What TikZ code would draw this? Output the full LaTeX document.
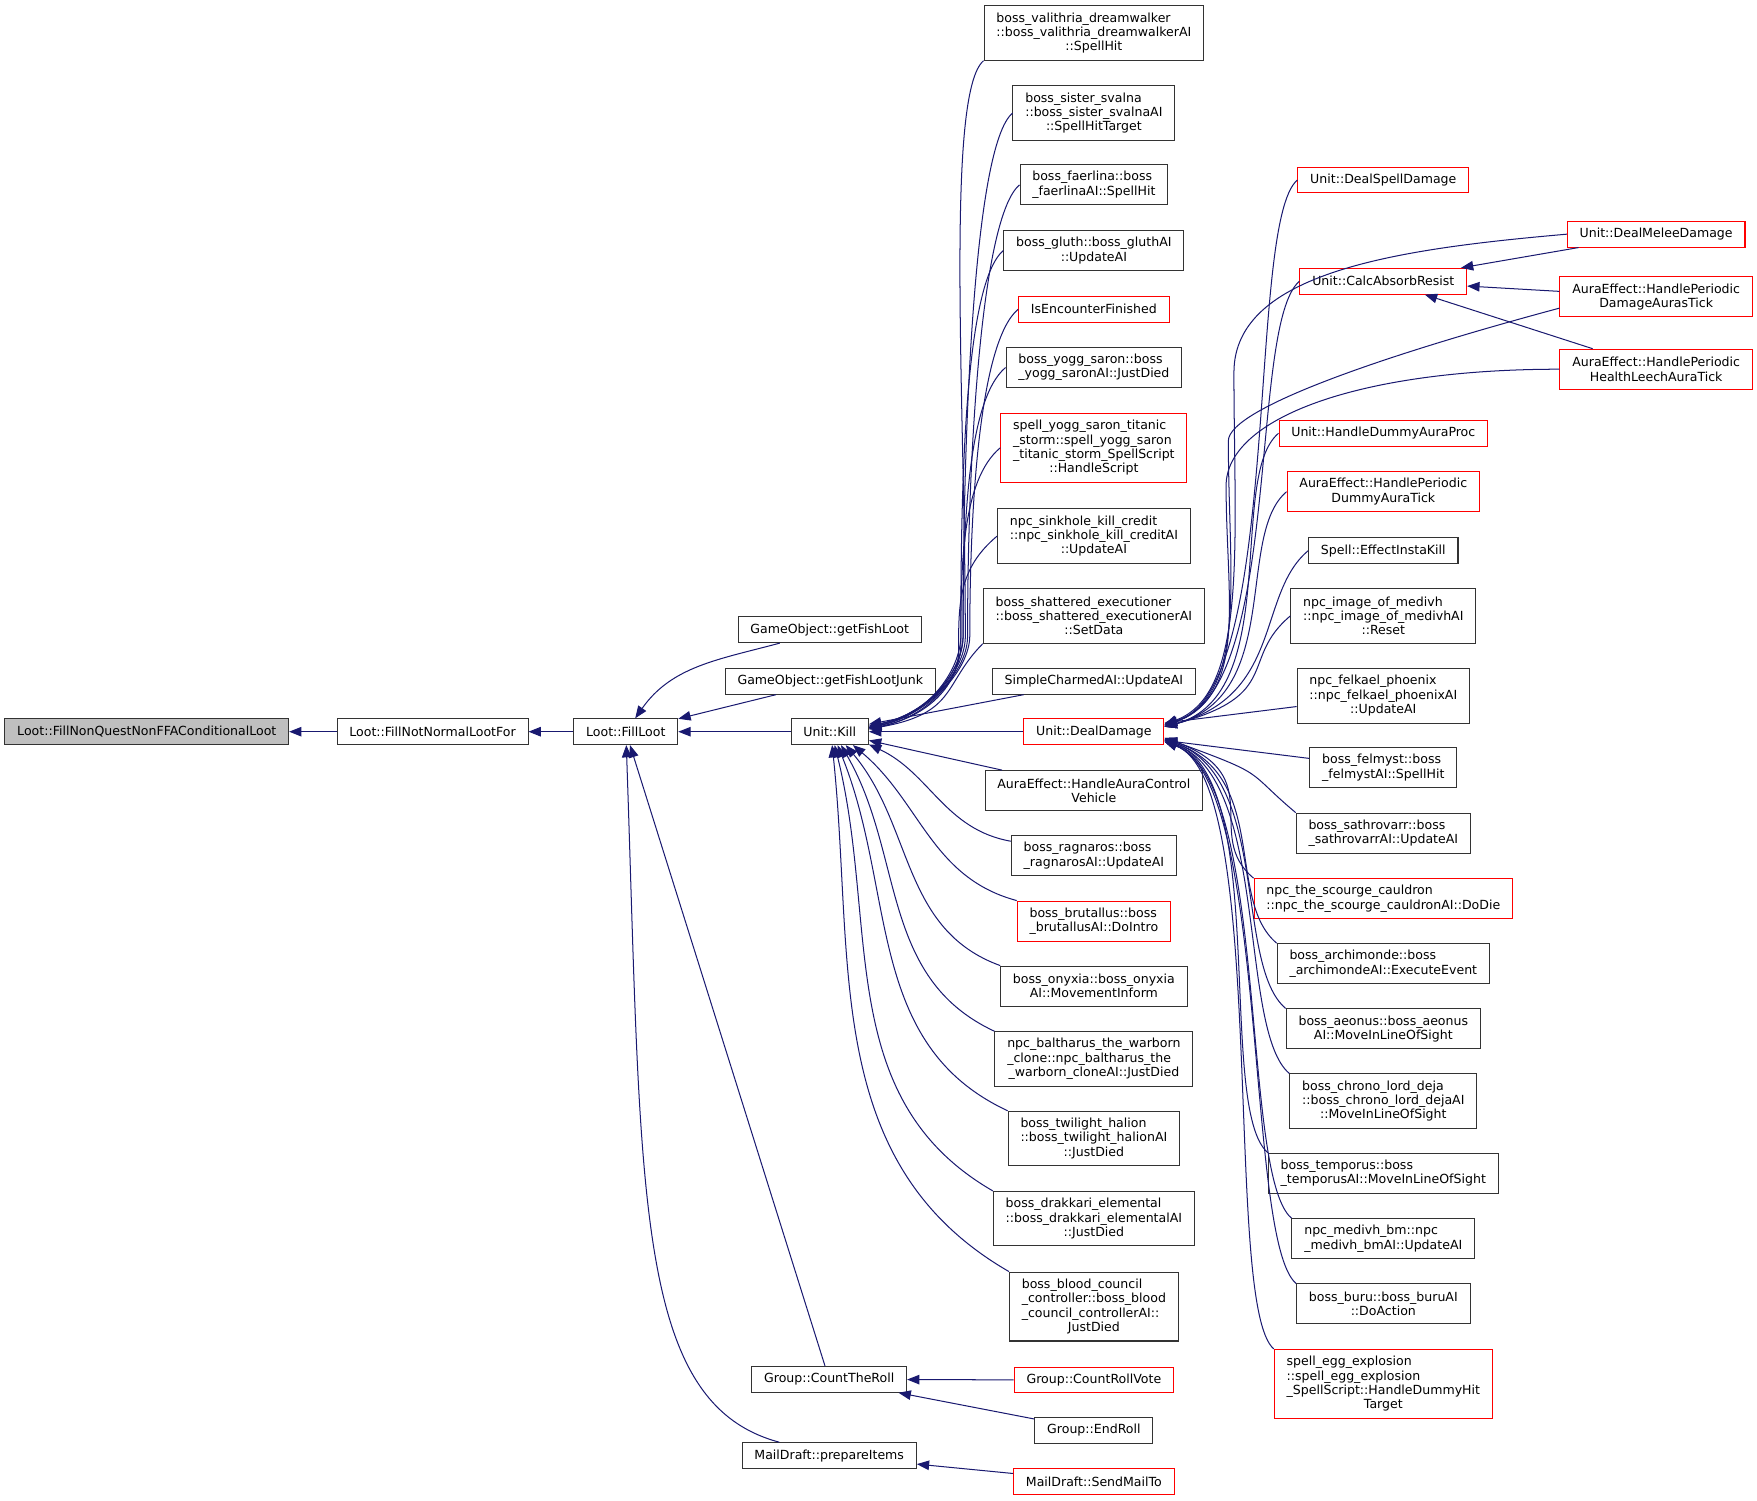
\documentclass[tikz,border=0pt]{standalone}
\usepackage{fontspec}
\setmainfont{DejaVu Sans}
\usetikzlibrary{arrows.meta}
\definecolor{callnavy}{HTML}{191970}
\definecolor{boxred}{HTML}{FF0000}
\definecolor{curgray}{HTML}{BFBFBF}
\newcommand{\lastln}[1]{\hfill#1\hfill\mbox{}}

\tikzset{
  fn/.style={draw=black!80, line width=0.9pt, fill=white, inner xsep=11pt, inner ysep=2pt,
    minimum height=23pt, align=left, font=\fontsize{11.2}{12.8}\selectfont},
  fnred/.style={fn, draw=boxred},
  fncur/.style={fn, fill=curgray},
  l2/.style={minimum height=35.7pt},
  l3/.style={minimum height=48.5pt},
  l4/.style={minimum height=61.5pt},
  call/.style={draw=callnavy, line width=0.9pt, {Triangle[length=11pt,width=8.5pt]}-},
  lift/.style={out=12, in=-90, out distance=55pt, in distance=30pt},
  climb/.style={out=90, in=220, in distance=45pt},
  rise/.style={out=15, in=220, out distance=110pt, in distance=60pt},
  fall/.style={out=-20, in=140, out distance=100pt, in distance=60pt},
}

\begin{document}
\begin{tikzpicture}[x=1pt, y=1pt]
  \path[use as bounding box, fill=white] (0,0) rectangle (1568,1339);

  % loot chain
  \node[fncur] (cur) at (131,686) {Loot::FillNonQuestNonFFAConditionalLoot};
  \node[fn] (notnormal) at (386,686) {Loot::FillNotNormalLootFor};
  \node[fn] (fillloot) at (558.5,686) {Loot::FillLoot};
  \node[fn] (getfishloot) at (740.5,777) {GameObject::getFishLoot};
  \node[fn] (fishjunk) at (741,731) {GameObject::getFishLootJunk};
  \node[fn] (kill) at (740.5,686) {Unit::Kill};
  \node[fn] (countroll) at (740,108) {Group::CountTheRoll};
  \node[fn] (prepitems) at (740,40) {MailDraft::prepareItems};

  % callers of Unit::Kill and the roll / mail callers
  \node[fn, l3] (valithria) at (976.2,1309.5) {boss\_valithria\_dreamwalker\\::boss\_valithria\_dreamwalkerAI\\\lastln{::SpellHit}};
  \node[fn, l3] (svalna) at (976.2,1238) {boss\_sister\_svalna\\::boss\_sister\_svalnaAI\\\lastln{::SpellHitTarget}};
  \node[fn, l2] (faerlina) at (976.2,1174) {boss\_faerlina::boss\\\lastln{\_faerlinaAI::SpellHit}};
  \node[fn, l2] (gluth) at (976.2,1115.4) {boss\_gluth::boss\_gluthAI\\\lastln{::UpdateAI}};
  \node[fnred] (encounter) at (976.2,1063) {IsEncounterFinished};
  \node[fn, l2] (yogg) at (976.2,1011) {boss\_yogg\_saron::boss\\\lastln{\_yogg\_saronAI::JustDied}};
  \node[fnred, l4] (titanic) at (976.2,939.4) {spell\_yogg\_saron\_titanic\\\_storm::spell\_yogg\_saron\\\_titanic\_storm\_SpellScript\\\lastln{::HandleScript}};
  \node[fn, l3] (sinkhole) at (976.2,860.5) {npc\_sinkhole\_kill\_credit\\::npc\_sinkhole\_kill\_creditAI\\\lastln{::UpdateAI}};
  \node[fn, l3] (shattered) at (976.2,789.3) {boss\_shattered\_executioner\\::boss\_shattered\_executionerAI\\\lastln{::SetData}};
  \node[fn] (charmed) at (976.2,731) {SimpleCharmedAI::UpdateAI};
  \node[fnred] (dealdmg) at (976.2,686) {Unit::DealDamage};
  \node[fn, l2] (auractrl) at (976.2,633.4) {AuraEffect::HandleAuraControl\\\lastln{Vehicle}};
  \node[fn, l2] (ragnaros) at (976.2,575.2) {boss\_ragnaros::boss\\\lastln{\_ragnarosAI::UpdateAI}};
  \node[fnred, l2] (brutallus) at (976.2,517) {boss\_brutallus::boss\\\lastln{\_brutallusAI::DoIntro}};
  \node[fn, l2] (onyxia) at (976.2,459) {boss\_onyxia::boss\_onyxia\\\lastln{AI::MovementInform}};
  \node[fn, l3] (baltharus) at (976.2,394) {npc\_baltharus\_the\_warborn\\\_clone::npc\_baltharus\_the\\\lastln{\_warborn\_cloneAI::JustDied}};
  \node[fn, l3] (halion) at (976.2,323) {boss\_twilight\_halion\\::boss\_twilight\_halionAI\\\lastln{::JustDied}};
  \node[fn, l3] (drakkari) at (976.2,251.5) {boss\_drakkari\_elemental\\::boss\_drakkari\_elementalAI\\\lastln{::JustDied}};
  \node[fn, l4] (bloodcouncil) at (976.2,173) {boss\_blood\_council\\\_controller::boss\_blood\\\_council\_controllerAI::\\\lastln{JustDied}};
  \node[fnred] (rollvote) at (976.2,107.4) {Group::CountRollVote};
  \node[fn] (endroll) at (976.2,62.4) {Group::EndRoll};
  \node[fnred] (sendmail) at (976.2,17) {MailDraft::SendMailTo};

  % callers of Unit::DealDamage
  \node[fnred] (spelldmg) at (1234.5,1178.4) {Unit::DealSpellDamage};
  \node[fnred] (absorb) at (1234.5,1088) {Unit::CalcAbsorbResist};
  \node[fnred] (dummyproc) at (1234.5,952.3) {Unit::HandleDummyAuraProc};
  \node[fnred, l2] (dummytick) at (1234.5,900.2) {AuraEffect::HandlePeriodic\\\lastln{DummyAuraTick}};
  \node[fn] (instakill) at (1234.5,847.5) {Spell::EffectInstaKill};
  \node[fn, l3] (medivh) at (1234.5,789.3) {npc\_image\_of\_medivh\\::npc\_image\_of\_medivhAI\\\lastln{::Reset}};
  \node[fn, l3] (felkael) at (1234.5,718) {npc\_felkael\_phoenix\\::npc\_felkael\_phoenixAI\\\lastln{::UpdateAI}};
  \node[fn, l2] (felmyst) at (1234.5,654) {boss\_felmyst::boss\\\lastln{\_felmystAI::SpellHit}};
  \node[fn, l2] (sathrovarr) at (1234.5,595.5) {boss\_sathrovarr::boss\\\lastln{\_sathrovarrAI::UpdateAI}};
  \node[fnred, l2] (cauldron) at (1234.5,537) {npc\_the\_scourge\_cauldron\\\lastln{::npc\_the\_scourge\_cauldronAI::DoDie}};
  \node[fn, l2] (archimonde) at (1234.5,479) {boss\_archimonde::boss\\\lastln{\_archimondeAI::ExecuteEvent}};
  \node[fn, l2] (aeonus) at (1234.5,420.7) {boss\_aeonus::boss\_aeonus\\\lastln{AI::MoveInLineOfSight}};
  \node[fn, l3] (chrono) at (1234.5,356.3) {boss\_chrono\_lord\_deja\\::boss\_chrono\_lord\_dejaAI\\\lastln{::MoveInLineOfSight}};
  \node[fn, l2] (temporus) at (1234.5,292) {boss\_temporus::boss\\\lastln{\_temporusAI::MoveInLineOfSight}};
  \node[fn, l2] (medivhbm) at (1234.5,233.6) {npc\_medivh\_bm::npc\\\lastln{\_medivh\_bmAI::UpdateAI}};
  \node[fn, l2] (buru) at (1234.5,175.3) {boss\_buru::boss\_buruAI\\\lastln{::DoAction}};
  \node[fnred, l4] (egg) at (1234.5,104) {spell\_egg\_explosion\\::spell\_egg\_explosion\\\_SpellScript::HandleDummyHit\\\lastln{Target}};

  % callers of Unit::CalcAbsorbResist
  \node[fnred] (meleedmg) at (1478,1130) {Unit::DealMeleeDamage};
  \node[fnred, l2] (dmgauras) at (1478,1074) {AuraEffect::HandlePeriodic\\\lastln{DamageAurasTick}};
  \node[fnred, l2] (leech) at (1478,1009.5) {AuraEffect::HandlePeriodic\\\lastln{HealthLeechAuraTick}};

  % edges into the loot chain
  \draw[call] (cur) -- (notnormal);
  \draw[call] (notnormal) -- (fillloot);
  \draw[call] (fillloot) -- (kill);
  \draw[call] (fillloot) to[out=55, in=195] (getfishloot);
  \draw[call] (fillloot) -- (fishjunk);
  \draw[call] (fillloot) -- (countroll);
  \draw[call] (fillloot) to[out=-88, in=165, out distance=400pt, in distance=135pt] (prepitems);

  % edges into Unit::Kill
  \draw[call] (kill.8) to[lift] ++(86,80) to[climb] (valithria.south west);
  \draw[call] (kill.8) to[lift] ++(84,80) to[climb] (svalna.west);
  \draw[call] (kill.8) to[lift] ++(88,80) to[climb] (faerlina.west);
  \draw[call] (kill.6) to[lift] ++(82,82) to[climb] (gluth.west);
  \draw[call] (kill.6) to[lift] ++(90,82) to[climb] (encounter.west);
  \draw[call] (kill.6) to[lift] ++(84,82) to[climb] (yogg.west);
  \draw[call] (kill.4) to[lift] ++(82,75) to[climb] (titanic.west);
  \draw[call] (kill.4) to[lift] ++(80,70) to[climb] (sinkhole.west);
  \draw[call] (kill.4) to[out=10, in=225, out distance=80pt, in distance=50pt] (shattered.south west);
  \draw[call] (kill) -- (charmed);
  \draw[call] (kill) -- (dealdmg);
  \draw[call] (kill) -- (auractrl);
  \draw[call] (kill.-18) to[out=-25, in=170] (ragnaros);
  \draw[call] (kill.-30) to[out=-40, in=165] (brutallus.north west);
  \draw[call] (kill.-40) to[out=-50, in=160] (onyxia.north west);
  \draw[call] (kill.-50) to[out=-60, in=155] (baltharus.north west);
  \draw[call] (kill.-60) to[out=-68, in=155] (halion.north west);
  \draw[call] (kill.-70) to[out=-76, in=150] (drakkari.north west);
  \draw[call] (kill.-80) to[out=-84, in=150] (bloodcouncil.north west);

  % roll and mail edges
  \draw[call] (countroll) -- (rollvote);
  \draw[call] (countroll) -- (endroll);
  \draw[call] (prepitems) -- (sendmail);

  % edges into Unit::DealDamage
  \draw[call] (dealdmg.6) to[rise] (spelldmg.west);
  \draw[call] (dealdmg.6) to[out=20, in=-90, out distance=80pt, in distance=150pt] ++(62,314)
    to[out=90, in=185, out distance=90pt, in distance=150pt] (meleedmg.west);
  \draw[call] (dealdmg.6) to[rise] (absorb.west);
  \draw[call] (dealdmg.5) to[out=20, in=-90, out distance=80pt, in distance=120pt] ++(57,254)
    to[out=90, in=195, out distance=30pt, in distance=150pt] ([yshift=-10pt]dmgauras.west);
  \draw[call] (dealdmg.5) to[out=20, in=-90, out distance=80pt, in distance=100pt] ++(55,214)
    to[out=90, in=180, out distance=60pt, in distance=180pt] (leech.west);
  \draw[call] (dealdmg.4) to[rise] (dummyproc.west);
  \draw[call] (dealdmg.4) to[rise] (dummytick.west);
  \draw[call] (dealdmg.4) to[rise] (instakill.west);
  \draw[call] (dealdmg.4) to[rise] (medivh.west);
  \draw[call] (dealdmg) -- (felkael);
  \draw[call] (dealdmg) -- (felmyst);
  \draw[call] (dealdmg.-5) to[fall] (sathrovarr.north west);
  \draw[call] (dealdmg.-5) to[fall] (cauldron.north west);
  \draw[call] (dealdmg.-6) to[fall] (archimonde.north west);
  \draw[call] (dealdmg.-6) to[fall] (aeonus.north west);
  \draw[call] (dealdmg.-7) to[fall] (chrono.north west);
  \draw[call] (dealdmg.-7) to[fall] (temporus.north west);
  \draw[call] (dealdmg.-8) to[fall] (medivhbm.north west);
  \draw[call] (dealdmg.-8) to[fall] (buru.north west);
  \draw[call] (dealdmg.-8) to[fall] (egg.north west);

  % edges into Unit::CalcAbsorbResist
  \draw[call] (absorb) -- (meleedmg);
  \draw[call] (absorb) -- (dmgauras);
  \draw[call] (absorb) -- (leech);
\end{tikzpicture}
\end{document}
